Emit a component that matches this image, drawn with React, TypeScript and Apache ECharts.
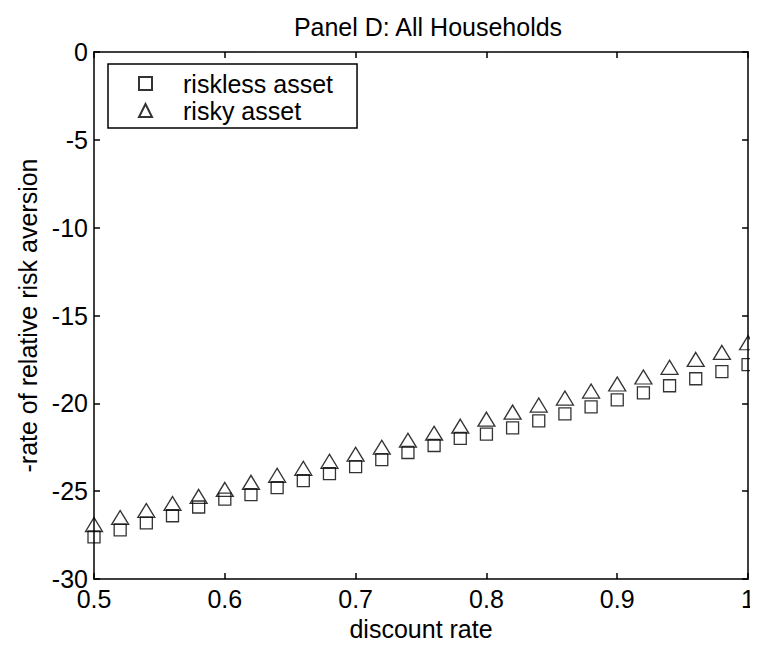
import React, { useEffect, useRef } from "react";
import * as echarts from "echarts";

const discountRates = [0.5, 0.52, 0.54, 0.56, 0.58, 0.6, 0.62, 0.64, 0.66, 0.68, 0.7, 0.72, 0.74, 0.76, 0.78, 0.8, 0.82, 0.84, 0.86, 0.88, 0.9, 0.92, 0.94, 0.96, 0.98, 1.0];
const risklessAsset = [-27.6, -27.2, -26.8, -26.4, -25.9, -25.45, -25.2, -24.8, -24.4, -24.0, -23.6, -23.2, -22.8, -22.4, -22.0, -21.75, -21.4, -21.0, -20.6, -20.2, -19.8, -19.4, -19.0, -18.6, -18.2, -17.8];
const riskyAsset = [-26.9, -26.5, -26.1, -25.7, -25.3, -24.9, -24.5, -24.1, -23.7, -23.3, -22.9, -22.5, -22.1, -21.7, -21.3, -20.9, -20.5, -20.1, -19.7, -19.3, -18.9, -18.5, -17.95, -17.5, -17.1, -16.55];

const FONT = "'Liberation Sans', Arial, Helvetica, sans-serif";
const FS = 25;

export default function App() {
  const ref = useRef<HTMLDivElement>(null);
  useEffect(() => {
    if (!ref.current) return;
    const chart = echarts.init(ref.current, null, { renderer: "svg" });
    const axisCommon = {
      axisLine: { show: true, onZero: false, lineStyle: { color: "#000", width: 1.5 } },
      axisTick: { show: true, inside: true, length: 6, lineStyle: { color: "#000", width: 1.5 } },
      splitLine: { show: false },
    };
    chart.setOption({
      animation: false,
      backgroundColor: "#fff",
      textStyle: { fontFamily: FONT, color: "#000" },
      title: {
        text: "Panel D: All Households",
        left: 423,
        top: 9,
        textAlign: "center",
        textStyle: { fontFamily: FONT, fontSize: FS, fontWeight: "normal", color: "#000" },
      },
      grid: { left: 94, right: 6, top: 52, bottom: 70, containLabel: false, show: false },
      legend: {
        orient: "vertical",
        left: 108,
        top: 64,
        padding: [6, 24, 4, 30],
        itemWidth: 13,
        itemHeight: 13,
        itemGap: 0,
        borderColor: "#000",
        borderWidth: 1.5,
        backgroundColor: "#fff",
        textStyle: { fontFamily: FONT, fontSize: FS, color: "#000", lineHeight: 27, padding: [0, 0, 0, 26] },
        data: ["riskless asset", "risky asset"],
      },
      xAxis: [
        {
          type: "value",
          min: 0.5,
          max: 1,
          interval: 0.1,
          position: "bottom",
          name: "discount rate",
          nameLocation: "middle",
          nameGap: 29,
          nameTextStyle: { fontFamily: FONT, fontSize: FS, color: "#000" },
          axisLabel: {
            fontFamily: FONT,
            fontSize: FS,
            lineHeight: 18,
            color: "#000",
            margin: 11,
            formatter: (v: number) => String(parseFloat(v.toFixed(1))),
          },
          ...axisCommon,
        },
        {
          type: "value",
          min: 0.5,
          max: 1,
          interval: 0.1,
          position: "top",
          axisLabel: { show: false },
          ...axisCommon,
        },
      ],
      yAxis: [
        {
          type: "value",
          min: -30,
          max: 0,
          interval: 5,
          position: "left",
          name: "-rate of relative risk aversion",
          nameLocation: "middle",
          nameGap: 45,
          nameTextStyle: { fontFamily: FONT, fontSize: FS, color: "#000" },
          axisLabel: { fontFamily: FONT, fontSize: FS, lineHeight: 18, color: "#000", margin: 6 },
          ...axisCommon,
        },
        {
          type: "value",
          min: -30,
          max: 0,
          interval: 5,
          position: "right",
          axisLabel: { show: false },
          ...axisCommon,
        },
      ],
      series: [
        {
          name: "riskless asset",
          type: "scatter",
          symbol: "rect",
          symbolSize: 12,
          clip: false,
          itemStyle: { color: "rgba(0,0,0,0)", borderColor: "#000", borderWidth: 1.3 },
          data: discountRates.map((x, i) => [x, risklessAsset[i]]),
        },
        {
          name: "risky asset",
          type: "scatter",
          symbol: "triangle",
          symbolSize: [17, 14],
          clip: false,
          itemStyle: { color: "rgba(0,0,0,0)", borderColor: "#000", borderWidth: 1.3 },
          data: discountRates.map((x, i) => [x, riskyAsset[i]]),
        },
      ],
    });
    return () => chart.dispose();
  }, []);
  return <div ref={ref} style={{ width: 758, height: 649, margin: -8 }} />;
}
